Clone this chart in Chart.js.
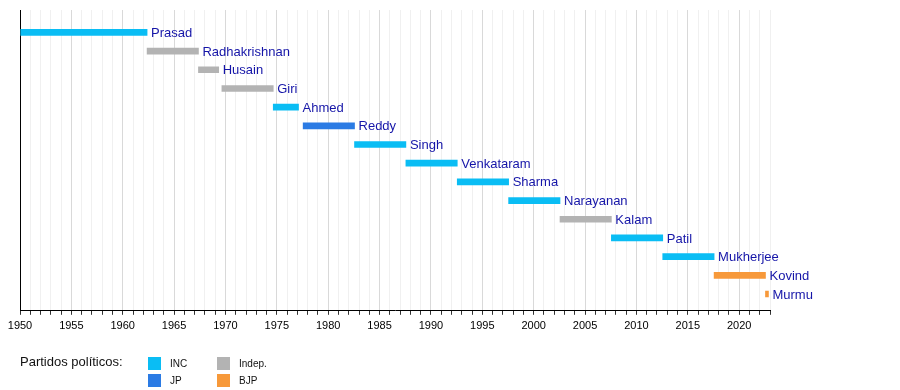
<!DOCTYPE html>
<html>
<head>
<meta charset="utf-8">
<script src="https://cdn.jsdelivr.net/npm/chart.js@4"></script>
<style>
  body { margin: 0; background: #fff; font-family: "Liberation Sans", Arial, sans-serif; }
  #wrap { position: relative; width: 900px; height: 390px; }
  #legend { position: absolute; left: 0; top: 0; width: 900px; height: 390px; pointer-events: none; }
  .lt { position: absolute; font-size: 13px; color: #111; }
  .sw { position: absolute; width: 13px; height: 13px; }
  .ll { position: absolute; font-size: 10px; color: #111; }
</style>
</head>
<body>
<div id="wrap">
  <canvas id="c" width="900" height="390"></canvas>
  <div id="legend"></div>
</div>
<script>
// Presidentes da Índia
const names = ['Prasad', 'Radhakrishnan', 'Husain', 'Giri', 'Ahmed', 'Reddy', 'Singh', 'Venkataram',
  'Sharma', 'Narayanan', 'Kalam', 'Patil', 'Mukherjee', 'Kovind', 'Murmu'];
const starts = [1950.07, 1962.37, 1967.37, 1969.65, 1974.65, 1977.56, 1982.56, 1987.56,
  1992.56, 1997.56, 2002.56, 2007.56, 2012.56, 2017.56, 2022.56];
const ends = [1962.37, 1967.37, 1969.34, 1974.65, 1977.11, 1982.56, 1987.56, 1992.56,
  1997.56, 2002.56, 2007.56, 2012.56, 2017.56, 2022.56, 2022.85];
const parties = ['INC', 'Indep.', 'Indep.', 'Indep.', 'INC', 'JP', 'INC', 'INC',
  'INC', 'INC', 'Indep.', 'INC', 'INC', 'BJP', 'BJP'];

const partyNames = ['INC', 'JP', 'Indep.', 'BJP'];
const partyColors = { 'INC': '#0ABDF4', 'JP': '#2B7BE4', 'Indep.': '#B3B3B3', 'BJP': '#F7993A' };

const xMin = 1950, xMax = 2023;

// uma linha por presidente (1 = topo)
const bars = names.map((n, i) => ({ x: [starts[i], ends[i]], y: i + 1 }));
const colors = parties.map(p => partyColors[p]);

const nameLabels = {
    id: 'nameLabels',
    afterDatasetsDraw(chart) {
        const ctx = chart.ctx;
        const meta = chart.getDatasetMeta(0);
        ctx.save();
        ctx.font = '13px "Liberation Sans", Arial, sans-serif';
        ctx.fillStyle = '#1515A8';
        ctx.textBaseline = 'middle';
        meta.data.forEach((el, i) => {
            const xEnd = chart.scales.x.getPixelForValue(ends[i]);
            ctx.fillText(names[i], xEnd + 4, el.y + 1);
        });
        ctx.restore();
    }
};

new Chart(document.getElementById('c').getContext('2d'), {
    type: 'bar',
    data: {
        datasets: [{
            data: bars,
            backgroundColor: colors,
            barThickness: 6,
            borderSkipped: false
        }]
    },
    options: {
        indexAxis: 'y',
        responsive: false,
        animation: false,
        layout: { padding: { left: 20, top: 10, right: 130, bottom: 52 } },
        plugins: { legend: { display: false }, tooltip: { enabled: false } },
        scales: {
            x: {
                type: 'linear',
                min: xMin,
                max: xMax,
                ticks: {
                    stepSize: 1,
                    autoSkip: false,
                    maxRotation: 0,
                    color: '#000',
                    font: { size: 11, family: '"Liberation Sans", Arial, sans-serif' },
                    padding: 5,
                    callback: v => (v % 5 === 0 ? String(v) : '')
                },
                grid: {
                    color: c => (c.tick && c.tick.value % 5 === 0 ? '#d9d9d9' : '#f0f0f0'),
                    tickColor: '#333',
                    tickLength: 4
                },
                border: { display: true, color: '#000', width: 1 }
            },
            y: {
                type: 'linear',
                reverse: true,
                offset: false,
                min: -0.2,
                max: 15.9,
                afterFit: s => { s.width = 0; },
                ticks: { display: false },
                grid: { display: false },
                border: { display: true, color: '#000', width: 1 }
            }
        }
    },
    plugins: [nameLabels]
});

// legenda dos partidos
const leg = document.getElementById('legend');
leg.innerHTML = '<div class="lt" style="left:20px;top:354px">Partidos políticos:</div>' +
    partyNames.map((p, i) => {
        const col = Math.floor(i / 2), row = i % 2;
        const x = 148 + col * 69, y = 357 + row * 17;
        return `<div class="sw" style="left:${x}px;top:${y}px;background:${partyColors[p]}"></div>` +
               `<div class="ll" style="left:${x + 22}px;top:${y + 1}px">${p}</div>`;
    }).join('');
</script>
</body>
</html>
